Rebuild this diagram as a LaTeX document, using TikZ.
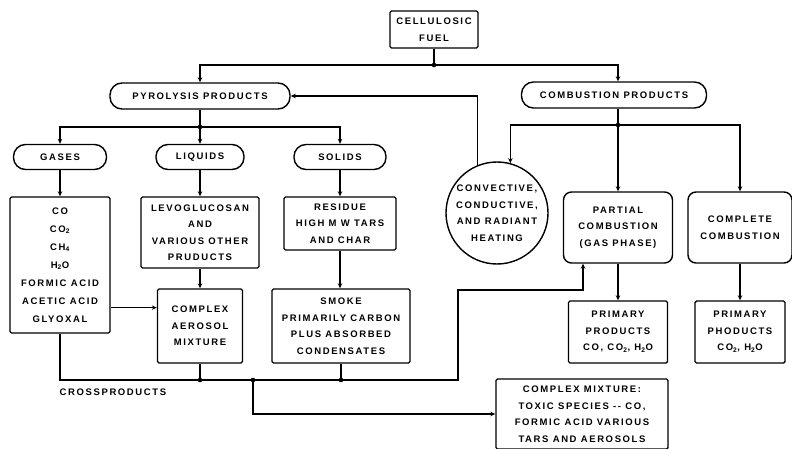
\documentclass[tikz,border=0pt]{standalone}
\usepackage{fontspec}
\setsansfont{Liberation Sans}[LetterSpace=17]
\usetikzlibrary{arrows.meta, calc}

\begin{document}
\begin{tikzpicture}[
  x=1pt, y=-1pt,
  line width=1.4pt,
  every node/.style={font=\sffamily\bfseries\fontsize{9.5}{16.5}\selectfont, align=center, inner sep=0pt},
  pill/.style={rectangle, draw, rounded corners=12pt, minimum height=26pt},
  box/.style={rectangle, draw, rounded corners=1.5pt},
  rbox/.style={rectangle, draw, rounded corners=8pt},
  arr/.style={-{Stealth[length=5pt, width=4.5pt]}},
]
  \useasboundingbox (0,0) rectangle (792,449);

  % Fuel and first split
  \node[box, minimum width=88pt, minimum height=37pt] (fuel) at (434,29.5) {CELLULOSIC\\FUEL};
  \node[pill, minimum width=180pt] (pyro) at (200,96) {PYROLYSIS PRODUCTS};
  \node[pill, minimum width=185pt] (comb) at (614,95) {COMBUSTION PRODUCTS};

  % Pyrolysis branch
  \node[pill, minimum width=93pt, minimum height=25pt] (gases) at (60,157) {GASES};
  \node[pill, minimum width=88pt, minimum height=25pt] (liquids) at (200,157) {LIQUIDS};
  \node[pill, minimum width=92pt, minimum height=25pt] (solids) at (340,157) {SOLIDS};

  \node[box, minimum width=100pt, minimum height=136pt, font=\sffamily\bfseries\fontsize{9.5}{18}\selectfont] (gasbox) at (60,265)
    {CO\\CO\textsubscript{2}\\CH\textsubscript{4}\\H\textsubscript{2}O\\FORMIC ACID\\ACETIC ACID\\GLYOXAL};
  \node[box, minimum width=118pt, minimum height=71pt] (levo) at (200,232.5) {LEVOGLUCOSAN\\AND\\VARIOUS OTHER\\PRUDUCTS};
  \node[box, minimum width=112pt, minimum height=53pt] (residue) at (340,223.5) {RESIDUE\\HIGH M W TARS\\AND CHAR};
  \node[box, minimum width=85pt, minimum height=74pt] (aerosol) at (200,326) {COMPLEX\\AEROSOL\\MIXTURE};
  \node[box, minimum width=138pt, minimum height=74pt] (smoke) at (341,326) {SMOKE\\PRIMARILY CARBON\\PLUS ABSORBED\\CONDENSATES};

  % Combustion branch
  \node[circle, draw, minimum size=102pt] (heat) at (497,213) {CONVECTIVE,\\CONDUCTIVE,\\AND RADIANT\\HEATING};
  \node[rbox, minimum width=109pt, minimum height=71pt] (partial) at (618,227.5) {PARTIAL\\COMBUSTION\\(GAS PHASE)};
  \node[rbox, minimum width=104pt, minimum height=71pt] (complete) at (740,227.5) {COMPLETE\\COMBUSTION};
  \node[box, minimum width=99pt, minimum height=62pt] (prim1) at (618,332) {PRIMARY\\PRODUCTS\\CO, CO\textsubscript{2}, H\textsubscript{2}O};
  \node[box, minimum width=90pt, minimum height=62pt] (prim2) at (740,332) {PRIMARY\\PHODUCTS\\CO\textsubscript{2}, H\textsubscript{2}O};

  % Final mixture
  \node[box, minimum width=172pt, minimum height=70pt] (mix) at (582,414) {COMPLEX MIXTURE:\\TOXIC SPECIES -{}- CO,\\FORMIC ACID VARIOUS\\TARS AND AEROSOLS};
  \node[anchor=west] (cross) at (59,392) {CROSSPRODUCTS};

  % Junctions
  \coordinate (j1) at (434,65);
  \coordinate (j2) at (200,127);
  \coordinate (j3) at (618,125);
  \coordinate (b1) at (200,380);
  \coordinate (b2) at (341,380);
  \coordinate (b3) at (253,380);
  \coordinate (cp) at (458,380);
  \coordinate (pc) at (583,290);

  % Arrows
  \draw (fuel) -- (j1);
  \draw[arr] (j1) -| (pyro);
  \draw[arr] (j1) -| (j3 |- comb.north);
  \draw (pyro) -- (j2);
  \foreach \s in {gases,liquids,solids} {
    \draw[arr] (j2) -| (\s);
  }
  \draw[arr] (gases) -- (gasbox);
  \draw[arr] (liquids) -- (levo);
  \draw[arr] (solids) -- (residue.north -| solids);
  \draw[arr] (levo) -- (aerosol);
  \draw[arr] (residue.south -| solids) -- (smoke.north -| solids);
  \draw[arr] ($(gasbox.south east)!0.19!(gasbox.north east)$) coordinate (g) -- (g -| aerosol.west);

  % Crossproducts line
  \draw[arr] (gasbox) |- (cp) |- (pc) -- (pc |- partial.south);
  \draw (aerosol) -- (b1);
  \draw (smoke.south -| b2) -- (b2);
  \draw[arr] (b3) |- (mix);

  % Combustion fan out
  \draw (j3 |- comb.south) -- (j3);
  \draw[arr] (j3) -| (heat.75);
  \foreach \s in {partial,complete} {
    \draw[arr] (j3) -| (\s);
  }
  \draw[arr] (partial) -- (prim1);
  \draw[arr] (complete) -- (prim2);
  \draw[arr] (heat.112) |- (pyro.east);

  \foreach \p in {j1,j2,j3,b1,b2,b3} {
    \fill (\p) circle[radius=2.3pt];
  }
\end{tikzpicture}
\end{document}
